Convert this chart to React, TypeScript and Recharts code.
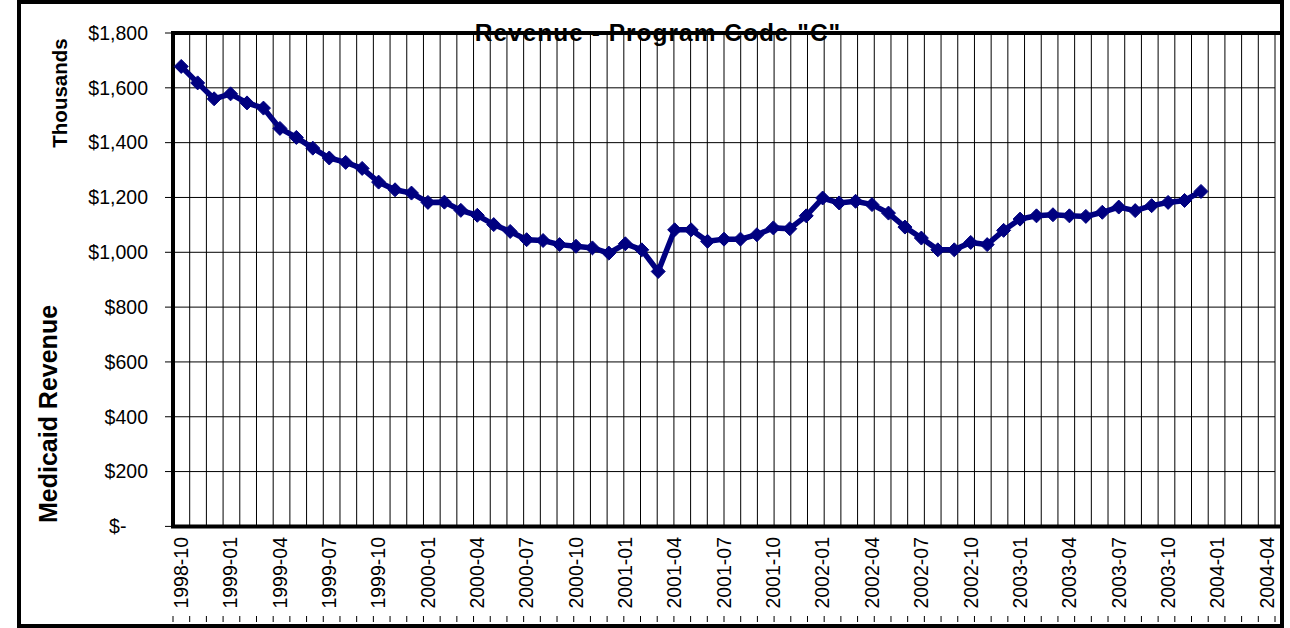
import React from "react";
import {
  LineChart,
  Line,
  XAxis,
  YAxis,
  CartesianGrid,
  ReferenceArea,
} from "recharts";

const months = [
  "1998-10", "1998-11", "1998-12",
  "1999-01", "1999-02", "1999-03", "1999-04", "1999-05", "1999-06",
  "1999-07", "1999-08", "1999-09", "1999-10", "1999-11", "1999-12",
  "2000-01", "2000-02", "2000-03", "2000-04", "2000-05", "2000-06",
  "2000-07", "2000-08", "2000-09", "2000-10", "2000-11", "2000-12",
  "2001-01", "2001-02", "2001-03", "2001-04", "2001-05", "2001-06",
  "2001-07", "2001-08", "2001-09", "2001-10", "2001-11", "2001-12",
  "2002-01", "2002-02", "2002-03", "2002-04", "2002-05", "2002-06",
  "2002-07", "2002-08", "2002-09", "2002-10", "2002-11", "2002-12",
  "2003-01", "2003-02", "2003-03", "2003-04", "2003-05", "2003-06",
  "2003-07", "2003-08", "2003-09", "2003-10", "2003-11", "2003-12",
  "2004-01", "2004-02", "2004-03", "2004-04",
];

// monthly revenue, thousands of dollars (1998-10 .. 2003-12)
const revenue = [
  1678, 1618, 1560, 1578, 1545, 1526, 1452, 1419, 1380, 1344, 1328, 1306,
  1256, 1228, 1216, 1182, 1183, 1153, 1135, 1101, 1076, 1046, 1043, 1028,
  1022, 1016, 997, 1031, 1009, 930, 1082, 1082, 1040, 1048, 1048, 1064,
  1089, 1086, 1133, 1198, 1180, 1186, 1174, 1143, 1092, 1052, 1009, 1009,
  1036, 1028, 1080, 1121, 1133, 1137, 1133, 1131, 1146, 1165, 1152, 1170,
  1182, 1189, 1222,
];

const yTicks = [0, 200, 400, 600, 800, 1000, 1200, 1400, 1600, 1800];

const data = months.map((m, i) => ({
  month: m,
  revenue: revenue[i] ?? null,
}));

// month boundaries for the vertical grid and tick marks
const gridTicks = [...months.map((_, i) => i), months.length];

const FONT = "'Liberation Sans', Arial, Helvetica, sans-serif";
const NAVY = "#000080";

const NoLabel = () => <g />;

const MonthTick = ({ x, y, payload }: any) => {
  const ty = y + 10.6;
  return (
    <text
      x={x}
      y={ty}
      transform={`rotate(-90, ${x}, ${ty})`}
      textAnchor="end"
      dy="0.35em"
      fontSize={19.5}
      fontFamily={FONT}
      fill="#000"
    >
      {payload.value}
    </text>
  );
};

const DollarTick = ({ x, y, payload }: any) => {
  const v = payload.value;
  const label = v === 0 ? "$-" : "$" + v.toLocaleString("en-US");
  return (
    <text
      x={v === 0 ? x - 21.6 : x}
      y={y}
      dy="0.35em"
      textAnchor="end"
      fontSize={19.5}
      fontFamily={FONT}
      fill="#000"
    >
      {label}
    </text>
  );
};

const AxisTitles = () => (
  <g fontFamily={FONT} fontWeight="bold" fill="#000">
    <text
      transform="translate(27, 410) rotate(-90)"
      textAnchor="middle"
      dy="0.35em"
      fontSize={25}
    >
      Medicaid Revenue
    </text>
    <text
      transform="translate(39, 89) rotate(-90)"
      textAnchor="middle"
      dy="0.35em"
      fontSize={20.5}
    >
      Thousands
    </text>
  </g>
);

const Diamond = (props: any) => {
  const { cx, cy, index } = props;
  if (cx == null || cy == null) return <g key={index} />;
  const r = 7;
  return (
    <polygon
      key={index}
      points={`${cx},${cy - r} ${cx + r},${cy} ${cx},${cy + r} ${cx - r},${cy}`}
      fill={NAVY}
      stroke={NAVY}
      strokeWidth={1}
    />
  );
};

export default function App() {
  return (
    <div
      style={{
        position: "absolute",
        left: 17,
        top: 0,
        width: 1259,
        height: 620,
        border: "4px solid #000",
        background: "#fff",
      }}
    >
      <div
        style={{
          position: "absolute",
          left: 637,
          top: 16.6,
          transform: "translateX(-50%)",
          whiteSpace: "nowrap",
          fontFamily: FONT,
          fontWeight: "bold",
          fontSize: 24.5,
          lineHeight: "24.5px",
          letterSpacing: 1,
          zIndex: 1,
        }}
      >
        Revenue - Program Code "C"
      </div>
      <LineChart
        width={1259}
        height={620}
        data={data}
        margin={{ top: 29, right: 5, bottom: 0, left: 0 }}
      >
        <CartesianGrid
          xAxisId="grid"
          stroke="#000"
          strokeWidth={1}
          vertical
          horizontal
        />
        <XAxis
          xAxisId="grid"
          type="number"
          domain={[0, months.length]}
          ticks={gridTicks}
          interval={0}
          tick={<NoLabel />}
          tickLine={{ stroke: "#000" }}
          tickSize={6}
          axisLine={false}
          height={8}
        />
        <XAxis
          xAxisId="cat"
          dataKey="month"
          type="category"
          scale="band"
          interval={2}
          tick={<MonthTick />}
          tickLine={false}
          axisLine={false}
          tickSize={0}
          tickMargin={0}
          height={89.6}
        />
        <YAxis
          domain={[0, 1800]}
          ticks={yTicks}
          interval={0}
          width={152}
          tickSize={8}
          tickMargin={17}
          tickLine={{ stroke: "#000" }}
          axisLine={false}
          tick={<DollarTick />}
          label={<AxisTitles />}
        />
        <ReferenceArea
          xAxisId="grid"
          x1={0}
          x2={months.length}
          y1={0}
          y2={1800}
          fill="none"
          stroke="#000"
          strokeWidth={4}
          ifOverflow="visible"
        />
        <Line
          xAxisId="cat"
          type="linear"
          dataKey="revenue"
          stroke={NAVY}
          strokeWidth={5.5}
          dot={Diamond}
          activeDot={false}
          isAnimationActive={false}
        />
      </LineChart>
    </div>
  );
}
